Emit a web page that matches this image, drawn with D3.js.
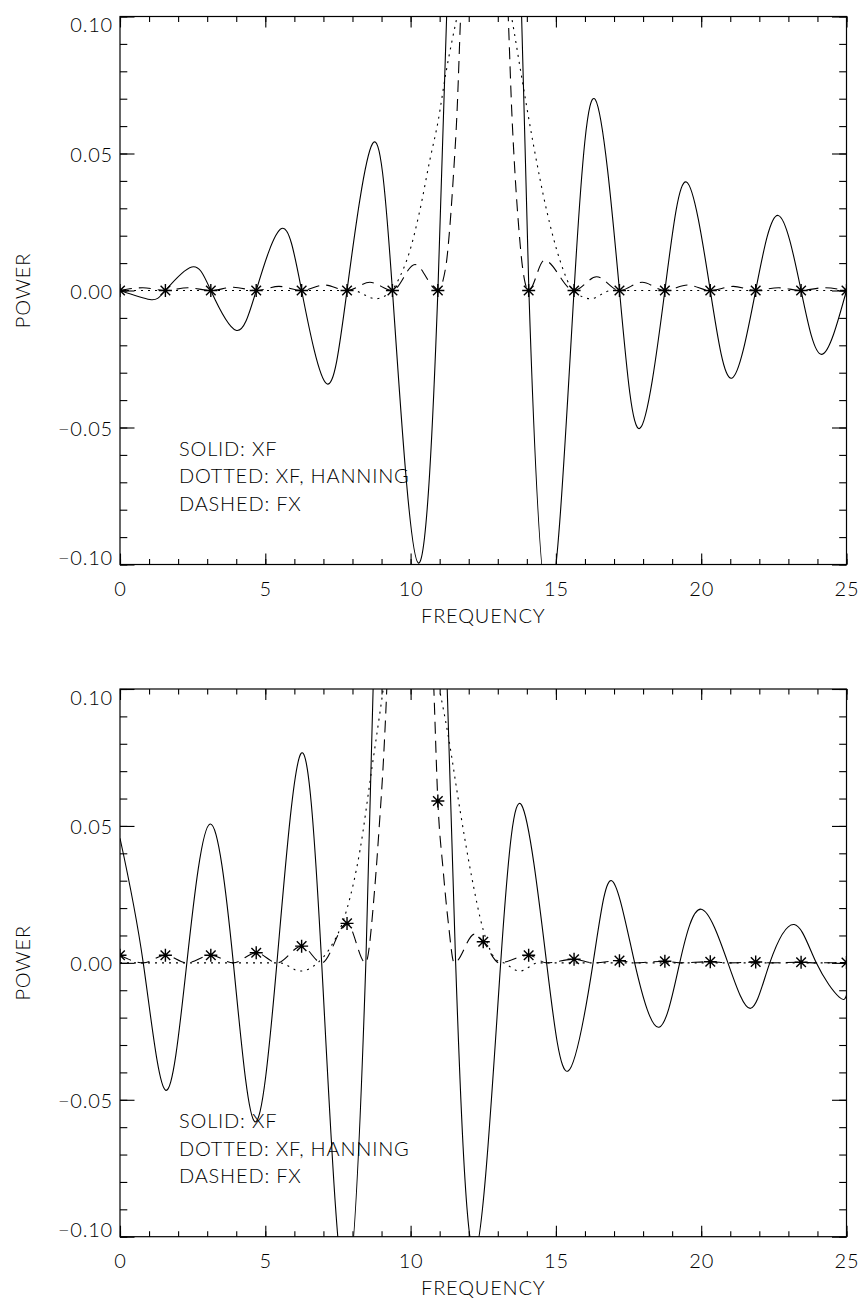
<!DOCTYPE html>
<html><head><meta charset="utf-8">
<script src="https://cdn.jsdelivr.net/npm/d3@7"></script>
<style>
body{margin:0;background:#fff;}
svg text{font-family:"Lato","Liberation Sans",sans-serif;font-weight:300;font-size:20px;fill:#000;letter-spacing:0.8px;}
</style></head><body><svg id="chart" width="861" height="1299"></svg>
<script>
// ---------- data ----------
const xTickValues = [0,5,10,15,20,25];
const xTickLabels = ["0","5","10","15","20","25"];
const yTickValues = [-0.1,-0.05,0,0.05,0.1];
const yTickLabels = ["\u22120.10","\u22120.05","0.00","0.05","0.10"];
const legendLines = ["SOLID: XF","DOTTED: XF, HANNING","DASHED: FX"];

const starFreq = [0,1.5625,3.125,4.6875,6.25,7.8125,9.375,10.9375,12.5,14.0625,15.625,17.1875,18.75,20.3125,21.875,23.4375,25];
const topStarPower = [0,0,0,0,0,0,0,0,0.25,0,0,0,0,0,0,0,0];
const bottomStarPower = [0.0028,0.0028,0.0028,0.0037,0.0061,0.0144,0.16,0.0591,0.0077,0.0028,0.0013,0.0008,0.0006,0.0004,0.0003,0.0002,0.0001];

const topSolidFreq  = [0,1.03,1.5625,2.47,3.125,3.99,4.6875,5.56,6.25,7.11,7.8125,8.69,9.375,10.27,10.94,11.24,11.6,12.5,13.45,13.82,14.07,14.75,15.625,16.36,17.1875,17.89,18.75,19.49,20.3125,21.05,21.875,22.65,23.4375,24.15,25];
const topSolidPower = [0,-0.0033,0,0.0086,0,-0.0145,0,0.0226,0,-0.034,0,0.0536,0,-0.0995,0,0.1,0.22,0.4,0.22,0.1,0,-0.115,0,0.0696,0,-0.0503,0,0.0396,0,-0.032,0,0.0274,0,-0.0233,0];

const topDottedFreq  = [0,8.0,8.8,9.35,9.63,9.98,10.32,10.66,10.95,11.21,11.6,12.5,13.47,13.82,14.22,14.68,15.14,15.6,16.2,16.9,25];
const topDottedPower = [0,0,-0.003,0,0.005,0.0147,0.0293,0.0475,0.062,0.0791,0.1,0.14,0.1,0.078,0.0536,0.0293,0.011,0,-0.003,0,0];

const topDashedFreq  = [0,0.78,1.5625,2.34,3.125,3.9,4.6875,5.47,6.25,7.03,7.8125,8.6,9.375,10.15,10.9375,11.21,11.35,11.47,11.6,11.72,12.5,13.36,13.48,13.6,13.72,13.85,14.0625,14.6,15.625,16.4,17.1875,17.97,18.75,19.53,20.3125,21.1,21.875,22.66,23.4375,24.2,25];
const topDashedPower = [0,0.001,0,0.001,0,0.0012,0,0.0015,0,0.002,0,0.003,0,0.0095,0,0.0086,0.0232,0.0414,0.0657,0.1,0.25,0.1,0.0657,0.0414,0.0232,0.0086,0,0.011,0,0.005,0,0.003,0,0.002,0,0.0015,0,0.001,0,0.001,0];

const bottomSolidFreq  = [0,0.8,1.57,2.3,3.1,3.9,4.64,5.4,6.22,6.94,7.78,8.46,8.71,9.0,10.0,11.0,11.26,11.55,12.2,13.1,13.82,14.68,15.42,16.28,16.92,17.71,18.55,19.26,20.0,20.92,21.7,22.36,23.2,23.96,24.75,25];
const bottomSolidPower = [0.0455,0,-0.0465,0,0.0507,0,-0.058,0,0.0763,0,-0.12,0,0.1,0.22,0.42,0.2,0.1,0,-0.106,0,0.0576,0,-0.0395,0,0.030,0,-0.0235,0,0.0196,0,-0.0166,0,0.014,0,-0.0125,-0.0118];

const bottomDottedFreq  = [0,5.5,6.2,6.8,7.22,7.8,8.26,8.66,8.94,9.06,10.0,10.99,11.3,11.7,12.1,12.5,12.96,13.2,13.76,14.4,25];
const bottomDottedPower = [0,0,-0.003,0,0.0053,0.0193,0.0412,0.0705,0.091,0.1,0.14,0.1,0.0826,0.0558,0.0315,0.012,0.001,0,-0.003,0,0];

const bottomDashedFreq  = [0,0.8,1.5625,2.3,3.125,3.9,4.6875,5.4,6.25,6.94,7.8125,8.45,8.77,8.92,9.06,9.15,9.375,10.0,10.8,10.9375,11.12,11.3,11.5,12.2,12.5,13.05,14.0625,14.68,15.625,16.28,17.1875,17.71,18.75,19.26,20.3125,20.92,21.875,22.36,23.4375,23.96,25];
const bottomDashedPower = [0.0028,0,0.0028,0,0.0028,0,0.0037,0,0.0061,0,0.0144,0,0.0278,0.0497,0.0729,0.0923,0.16,0.28,0.1,0.0591,0.0339,0.0144,0,0.0105,0.0077,0,0.0028,0,0.0013,0,0.0008,0,0.0006,0,0.0004,0,0.0003,0,0.0002,0,0.0001];

// ---------- drawing ----------
const svg = d3.select("#chart");
const X0 = 120, X1 = 846.5;

function zip(a, b){ return a.map((v,i)=>[v,b[i]]); }

function drawPanel(id, top, bottom, solid, dotted, dashed, stars){
  const x = d3.scaleLinear().domain([0,25]).range([X0,X1]);
  const y = d3.scaleLinear().domain([-0.1,0.1]).range([bottom,top]);
  const g = svg.append("g");
  const W = X1-X0, H = bottom-top;

  svg.append("clipPath").attr("id","clip"+id)
    .append("rect").attr("x",X0).attr("y",top).attr("width",W).attr("height",H);

  const plot = g.append("g").attr("clip-path","url(#clip"+id+")");
  const lineNat = d3.line().x(d=>x(d[0])).y(d=>y(d[1])).curve(d3.curveNatural);
  const lineMono = d3.line().x(d=>x(d[0])).y(d=>y(d[1])).curve(d3.curveMonotoneX);

  plot.append("path").datum(dotted).attr("d",lineMono)
    .attr("fill","none").attr("stroke","#000").attr("stroke-width",1.1)
    .attr("stroke-dasharray","2,5");
  plot.append("path").datum(dashed).attr("d",lineMono)
    .attr("fill","none").attr("stroke","#000").attr("stroke-width",1.1)
    .attr("stroke-dasharray","12,7");
  plot.append("path").datum(solid).attr("d",lineNat)
    .attr("fill","none").attr("stroke","#000").attr("stroke-width",1.1);

  const r = 6.5, d = 4.8;
  plot.selectAll(".star").data(stars).join("path")
    .attr("transform",s=>`translate(${x(s[0])},${y(s[1])})`)
    .attr("d",`M${-r},0H${r}M0,${-r}V${r}M${-d},${-d}L${d},${d}M${-d},${d}L${d},${-d}`)
    .attr("fill","none").attr("stroke","#000").attr("stroke-width",1.4);

  // frame
  g.append("rect").attr("x",X0).attr("y",top).attr("width",W).attr("height",H)
    .attr("fill","none").attr("stroke","#000").attr("stroke-width",1.2);

  const xMinor = d3.range(0,26,1);
  const yMinor = d3.range(-10,11,1).map(v=>v/100);

  g.append("g").attr("transform",`translate(0,${bottom})`)
    .call(d3.axisBottom(x).tickValues(xTickValues).tickFormat((v,i)=>xTickLabels[i])
      .tickSizeInner(-11).tickSizeOuter(0).tickPadding(17));
  g.append("g").attr("transform",`translate(0,${bottom})`)
    .call(d3.axisBottom(x).tickValues(xMinor).tickFormat("").tickSizeInner(-5.5).tickSizeOuter(0));
  g.append("g").attr("transform",`translate(0,${top})`)
    .call(d3.axisTop(x).tickValues(xTickValues).tickFormat("").tickSizeInner(-11).tickSizeOuter(0));
  g.append("g").attr("transform",`translate(0,${top})`)
    .call(d3.axisTop(x).tickValues(xMinor).tickFormat("").tickSizeInner(-5.5).tickSizeOuter(0));

  const yl = g.append("g").attr("transform",`translate(${X0},0)`)
    .call(d3.axisLeft(y).tickValues(yTickValues).tickFormat((v,i)=>yTickLabels[i])
      .tickSizeInner(-14.5).tickSizeOuter(0).tickPadding(7));
  g.append("g").attr("transform",`translate(${X0},0)`)
    .call(d3.axisLeft(y).tickValues(yMinor).tickFormat("").tickSizeInner(-7.3).tickSizeOuter(0));
  g.append("g").attr("transform",`translate(${X1},0)`)
    .call(d3.axisRight(y).tickValues(yTickValues).tickFormat("").tickSizeInner(-14.5).tickSizeOuter(0));
  g.append("g").attr("transform",`translate(${X1},0)`)
    .call(d3.axisRight(y).tickValues(yMinor).tickFormat("").tickSizeInner(-7.3).tickSizeOuter(0));

  g.selectAll(".domain").remove();
  g.selectAll(".tick line").attr("stroke","#000").attr("stroke-width",1.1);
  g.selectAll(".tick text").attr("font-size",null).attr("font-family",null).attr("fill","#000");
  yl.selectAll(".tick text").attr("dy",(v,i)=> v===0.1 ? "15px" : (v===-0.1 ? "0px" : "8px"));

  g.append("text").attr("x",(X0+X1)/2).attr("y",bottom+58.3).attr("text-anchor","middle").text("FREQUENCY");
  g.append("text").attr("transform",`translate(30,${(top+bottom)/2}) rotate(-90)`)
    .attr("text-anchor","middle").text("POWER");

  g.selectAll(".leg").data(legendLines).join("text")
    .attr("x",179).attr("y",(s,i)=>bottom-108.5+i*27.3).text(s=>s);
}

drawPanel("a", 16.5, 564.5,
  zip(topSolidFreq, topSolidPower), zip(topDottedFreq, topDottedPower),
  zip(topDashedFreq, topDashedPower), zip(starFreq, topStarPower));
drawPanel("b", 689, 1236.7,
  zip(bottomSolidFreq, bottomSolidPower), zip(bottomDottedFreq, bottomDottedPower),
  zip(bottomDashedFreq, bottomDashedPower), zip(starFreq, bottomStarPower));
</script></body></html>
